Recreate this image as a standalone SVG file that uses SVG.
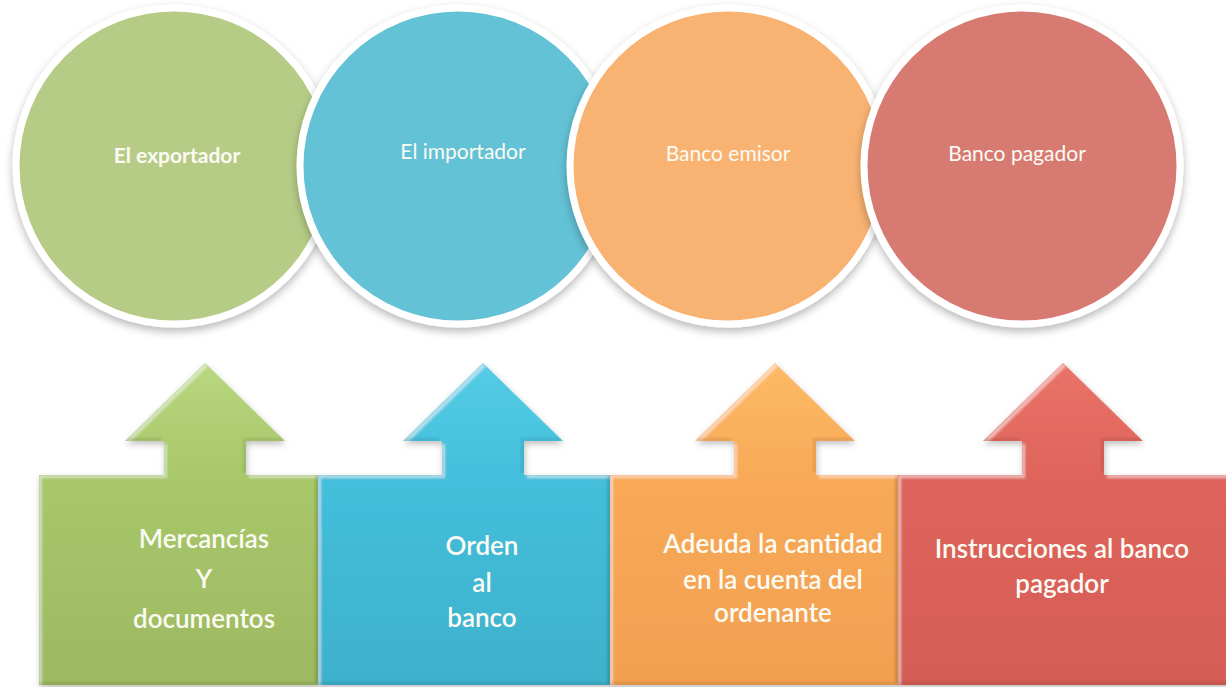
<svg xmlns="http://www.w3.org/2000/svg" width="1226" height="687" viewBox="0 0 1226 687">
  <defs>
    <style>
      .ctext { font-family: Lato, "Open Sans", "Liberation Sans", sans-serif; font-size: 21px; fill: #fbfbf4; text-anchor: middle; }
      .btext { font-family: Lato, "Open Sans", "Liberation Sans", sans-serif; font-size: 26px; fill: #fbfbf4; text-anchor: middle; font-weight: 600; }
      .circ { stroke: #ffffff; stroke-width: 7; filter: url(#cshadow); }
      .shape { filter: url(#bevel); }
    </style>
    <filter id="cshadow" x="-10%" y="-10%" width="120%" height="125%">
      <feDropShadow dx="0" dy="4" stdDeviation="4" flood-color="#000" flood-opacity="0.28"/>
    </filter>
    <filter id="bevel" x="-5%" y="-5%" width="110%" height="115%">
      <feOffset in="SourceAlpha" dx="3" dy="3" result="o1"/>
      <feComposite in="SourceAlpha" in2="o1" operator="out" result="tl"/>
      <feGaussianBlur in="tl" stdDeviation="1" result="tlb"/>
      <feComposite in="tlb" in2="SourceAlpha" operator="in" result="tlc"/>
      <feFlood flood-color="#ffffff" flood-opacity="0.4"/>
      <feComposite in2="tlc" operator="in" result="hi"/>
      <feOffset in="SourceAlpha" dx="-3" dy="-3" result="o2"/>
      <feComposite in="SourceAlpha" in2="o2" operator="out" result="br"/>
      <feGaussianBlur in="br" stdDeviation="1" result="brb"/>
      <feComposite in="brb" in2="SourceAlpha" operator="in" result="brc"/>
      <feFlood flood-color="#000000" flood-opacity="0.2"/>
      <feComposite in2="brc" operator="in" result="sh"/>
      <feGaussianBlur in="SourceAlpha" stdDeviation="3" result="ds0"/>
      <feOffset in="ds0" dx="1" dy="3" result="ds1"/>
      <feFlood flood-color="#000" flood-opacity="0.25"/>
      <feComposite in2="ds1" operator="in" result="ds"/>
      <feMerge>
        <feMergeNode in="ds"/>
        <feMergeNode in="SourceGraphic"/>
        <feMergeNode in="hi"/>
        <feMergeNode in="sh"/>
      </feMerge>
    </filter>
    <linearGradient id="gGreen" x1="0" y1="0" x2="0" y2="1">
      <stop offset="0" stop-color="#b9d77e"/>
      <stop offset="0.35" stop-color="#a8c86a"/>
      <stop offset="1" stop-color="#9db962"/>
    </linearGradient>
    <linearGradient id="gBlue" x1="0" y1="0" x2="0" y2="1">
      <stop offset="0" stop-color="#55cce6"/>
      <stop offset="0.35" stop-color="#44bfdb"/>
      <stop offset="1" stop-color="#3eb1cc"/>
    </linearGradient>
    <linearGradient id="gOrange" x1="0" y1="0" x2="0" y2="1">
      <stop offset="0" stop-color="#fdba66"/>
      <stop offset="0.35" stop-color="#f8aa57"/>
      <stop offset="1" stop-color="#f1a050"/>
    </linearGradient>
    <linearGradient id="gRed" x1="0" y1="0" x2="0" y2="1">
      <stop offset="0" stop-color="#ea7268"/>
      <stop offset="0.35" stop-color="#df655c"/>
      <stop offset="1" stop-color="#d45d55"/>
    </linearGradient>
  </defs>

  <rect x="0" y="0" width="1226" height="687" fill="#ffffff"/>

  <!-- circles -->
  <g id="node-exportador">
    <circle class="circ" cx="174" cy="166" r="158" fill="#b6cc86"/>
    <text class="ctext" x="177" y="163" font-weight="bold">El exportador</text>
  </g>
  <g id="node-importador">
    <circle class="circ" cx="458" cy="166" r="158" fill="#63c2d6"/>
    <text class="ctext" x="463" y="159">El importador</text>
  </g>
  <g id="node-banco-emisor">
    <circle class="circ" cx="728" cy="166" r="158" fill="#f8b373"/>
    <text class="ctext" x="728" y="161">Banco emisor</text>
  </g>
  <g id="node-banco-pagador">
    <circle class="circ" cx="1022" cy="166" r="158" fill="#d77a72"/>
    <text class="ctext" x="1017" y="161">Banco pagador</text>
  </g>

  <g id="connectors"></g>

  <!-- arrow boxes -->
  <g id="node-mercancias">
    <path class="shape" fill="url(#gGreen)" d="M39,475 H164 V441 H125 L205,363 L285,441 H246 V475 H318 V685 H39 Z"/>
    <text class="btext" x="204" y="548">Mercancías</text>
    <text class="btext" x="204" y="588">Y</text>
    <text class="btext" x="204" y="628">documentos</text>
  </g>
  <g id="node-orden">
    <path class="shape" fill="url(#gBlue)" d="M318,475 H442 V441 H403 L483,363 L563,441 H524 V475 H610 V685 H318 Z"/>
    <text class="btext" x="482" y="555">Orden</text>
    <text class="btext" x="482" y="592">al</text>
    <text class="btext" x="482" y="627">banco</text>
  </g>
  <g id="node-adeuda">
    <path class="shape" fill="url(#gOrange)" d="M610,475 H734 V441 H695 L775,363 L855,441 H816 V475 H898 V685 H610 Z"/>
    <text class="btext" x="773" y="553">Adeuda la cantidad</text>
    <text class="btext" x="773" y="589">en la cuenta del</text>
    <text class="btext" x="773" y="622">ordenante</text>
  </g>
  <g id="node-instrucciones">
    <path class="shape" fill="url(#gRed)" d="M898,475 H1022 V441 H983 L1063,363 L1143,441 H1104 V475 H1232 V685 H898 Z"/>
    <text class="btext" x="1062" y="558">Instrucciones al banco</text>
    <text class="btext" x="1062" y="593">pagador</text>
  </g>
</svg>
